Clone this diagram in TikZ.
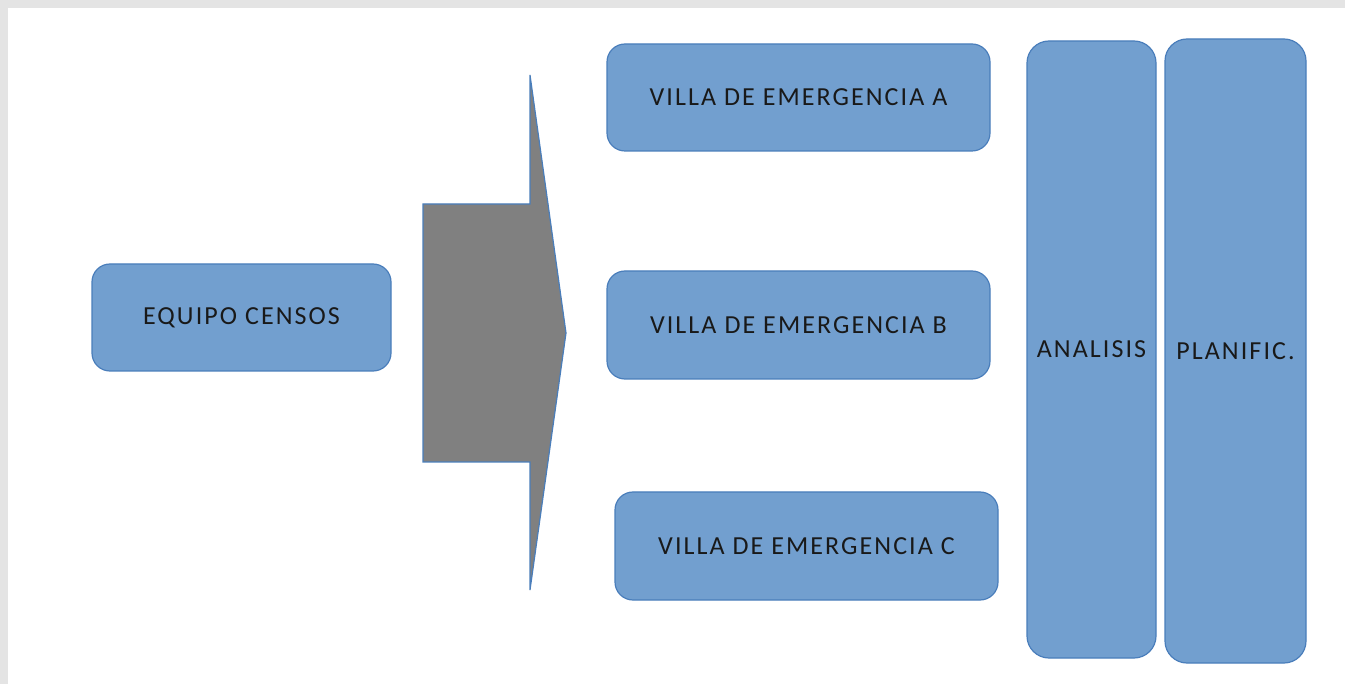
\documentclass[tikz,border=0pt]{standalone}
\usepackage{fontspec}
\setmainfont{Carlito}[LetterSpace=8]
\definecolor{boxfill}{HTML}{729FCF}
\definecolor{boxline}{HTML}{4A7EBB}
\definecolor{arrowfill}{HTML}{808080}
\definecolor{frame}{HTML}{E4E4E4}
\begin{document}
\begin{tikzpicture}[x=1pt,y=-1pt,
  box/.style={draw=boxline,fill=boxfill,line width=1.2pt,rounded corners=18pt,
    font=\fontsize{26}{29}\selectfont,text=black!90,inner sep=0pt},
  tallbox/.style={box,rounded corners=22pt}]
\useasboundingbox (0,0) rectangle (1345,684);
\fill[frame] (0,0) rectangle (1345,684);
\fill[white] (8,8) rectangle (1345,684);
% arrow
\draw[draw=boxline,fill=arrowfill,line width=1.2pt]
  (423,204) -- (530,204) -- (530,75) -- (566,333) -- (530,590) -- (530,462) -- (423,462) -- cycle;
\node[box,minimum width=299pt,minimum height=107pt] (eq) at (241.5,317.5) {EQUIPO CENSOS};
\node[box,minimum width=383pt,minimum height=107pt] (va) at (798.5,97.5) {VILLA DE EMERGENCIA A};
\node[box,minimum width=383pt,minimum height=108pt] (vb) at (798.5,325) {VILLA DE EMERGENCIA B};
\node[box,minimum width=383pt,minimum height=108pt] (vc) at (806.5,546) {VILLA DE EMERGENCIA C};
\node[tallbox,minimum width=129pt,minimum height=617pt] (an) at (1091.5,349.5) {ANALISIS};
\node[tallbox,minimum width=141pt,minimum height=624pt] (pl) at (1235.5,351) {PLANIFIC.};
\end{tikzpicture}
\end{document}
